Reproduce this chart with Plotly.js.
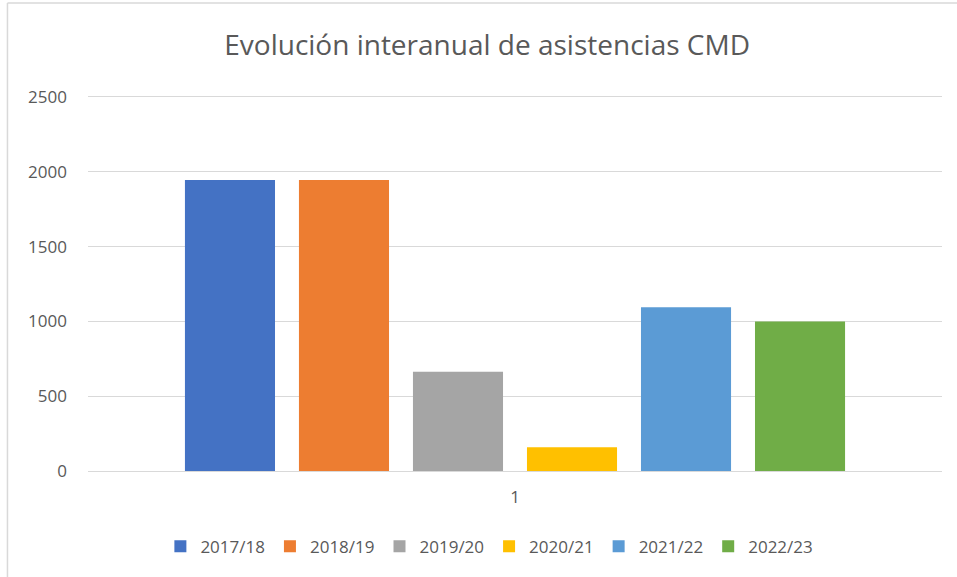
<!DOCTYPE html>
<html>
<head>
<meta charset="utf-8">
<script src="https://cdn.plot.ly/plotly-3.0.1.min.js"></script>
<style>html,body{margin:0;padding:0;background:#fff;}#chart{width:957px;height:577px;}</style>
</head>
<body>
<div id="chart"></div>
<script>
const categories = ["1"];
const seasons = ["2017/18", "2018/19", "2019/20", "2020/21", "2021/22", "2022/23"];
const values = [1945, 1945, 663, 158, 1095, 1000];
const colors = ["#4472C4", "#ED7D31", "#A5A5A5", "#FFC000", "#5B9BD5", "#70AD47"];
const yTicks = [0, 500, 1000, 1500, 2000, 2500];

const font = "Open Sans, Noto Sans, sans-serif";
const traces = seasons.map((s, i) => ({
  type: "bar",
  name: s,
  x: categories,
  y: [values[i]],
  marker: {color: colors[i], line: {width: 0}},
  hoverinfo: "name+y"
}));

const layout = {
  width: 957, height: 577,
  margin: {l: 88, r: 15, t: 92, b: 104},
  paper_bgcolor: "#fff", plot_bgcolor: "#fff",
  barmode: "group",
  bargap: 0.199,
  bargroupgap: 0.21,
  title: {text: "Evolución interanual de asistencias CMD", font: {family: font, size: 28, color: "#595959"},
          x: 0.509, xref: "container", y: 0.922, yref: "container", yanchor: "middle", xanchor: "center"},
  xaxis: {type: "category", showgrid: false, zeroline: false, showline: false, ticks: "",
          tickfont: {family: font, size: 17, color: "#595959"}, ticklabelstandoff: 14},
  yaxis: {range: [0, 2533], tickvals: yTicks, ticktext: yTicks.map(String), showgrid: true, gridcolor: "#d9d9d9", gridwidth: 1,
          zeroline: true, zerolinecolor: "#d9d9d9", zerolinewidth: 1, showline: false, ticks: "",
          tickfont: {family: font, size: 17, color: "#595959"}, ticklabelstandoff: 20},
  legend: {orientation: "h", x: 0.47, xanchor: "center", y: -0.2, yanchor: "middle",
           font: {family: font, size: 17, color: "#595959"}, itemwidth: 30, traceorder: "normal"},
  shapes: [
    {type: "line", xref: "paper", yref: "paper", x0: -0.0943, x1: 1.02, y0: 1.2346, y1: 1.2346, line: {color: "#d9d9d9", width: 1.5}},
    {type: "line", xref: "paper", yref: "paper", x0: -0.0943, x1: -0.0943, y0: 1.2346, y1: -0.28, line: {color: "#d9d9d9", width: 1.5}}
  ],
  showlegend: true
};

Plotly.newPlot("chart", traces, layout, {displayModeBar: false, staticPlot: true});
</script>
</body>
</html>
